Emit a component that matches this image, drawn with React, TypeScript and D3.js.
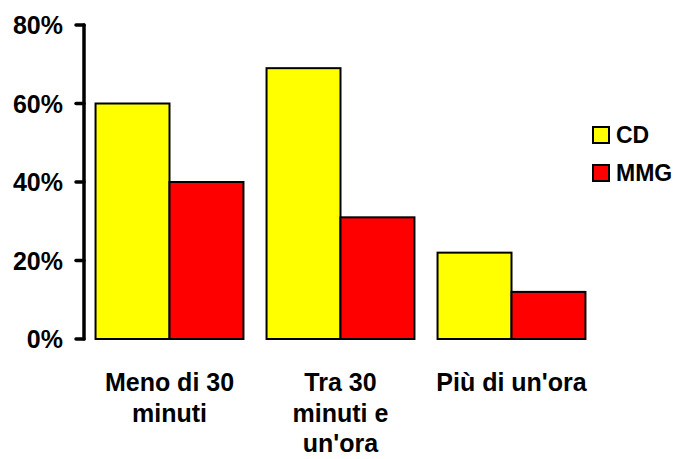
import React from "react";
import * as d3 from "d3";

const categories = ["Meno di 30 minuti", "Tra 30 minuti e un'ora", "Più di un'ora"];
const categoryLines = [["Meno di 30", "minuti"], ["Tra 30", "minuti e", "un'ora"], ["Più di un'ora"]];
const seriesNames = ["CD", "MMG"];
const cdValues = [60, 69, 22];
const mmgValues = [40, 31, 12];
const yTicks = [0, 20, 40, 60, 80];
const colors = ["#FFFF00", "#FF0000"];

const W = 675;
const H = 459;
const FONT = "'Liberation Sans', Arial, sans-serif";

export default function App() {
  const series = [cdValues, mmgValues];
  const y = d3.scaleLinear().domain([0, 80]).range([339, 25]);
  const x0 = d3.scaleBand<string>().domain(categories).range([84, 597]).paddingInner(0.135).paddingOuter(0.0675);
  const x1 = d3.scaleBand<string>().domain(seriesNames).range([0, x0.bandwidth()]);

  return (
    <svg width={W} height={H} style={{ position: "absolute", left: 0, top: 0, background: "#fff" }} fontFamily={FONT}>
      <rect x={0} y={0} width={W} height={H} fill="#fff" />
      {categories.map((c, i) =>
        seriesNames.map((s, j) => (
          <rect
            key={c + s}
            x={(x0(c) as number) + (x1(s) as number)}
            y={y(series[j][i])}
            width={x1.bandwidth()}
            height={y(0) - y(series[j][i])}
            fill={colors[j]}
            stroke="#000"
            strokeWidth={2}
          />
        ))
      )}
      <line x1={84} x2={84} y1={y(80)} y2={y(0)} stroke="#000" strokeWidth={3.5} strokeLinecap="round" />
      {yTicks.map((t) => (
        <g key={t}>
          <line x1={76} x2={84} y1={y(t)} y2={y(t)} stroke="#000" strokeWidth={3.5} strokeLinecap="round" />
          <text x={63} y={y(t) + 9} textAnchor="end" fontSize={25} fontWeight="bold">
            {t + "%"}
          </text>
        </g>
      ))}
      {categories.map((c, i) => (
        <text key={c} textAnchor="middle" fontSize={25} fontWeight="bold">
          {categoryLines[i].map((ln, k) => (
            <tspan key={k} x={(x0(c) as number) + x0.bandwidth() / 2} y={391 + k * 30.5}>
              {ln}
            </tspan>
          ))}
        </text>
      ))}
      {seriesNames.map((s, j) => (
        <g key={s}>
          <rect x={593} y={127 + j * 38} width={16} height={16} fill={colors[j]} stroke="#000" strokeWidth={2} />
          <text x={616} y={143 + j * 38} fontSize={23} fontWeight="bold">
            {s}
          </text>
        </g>
      ))}
    </svg>
  );
}
